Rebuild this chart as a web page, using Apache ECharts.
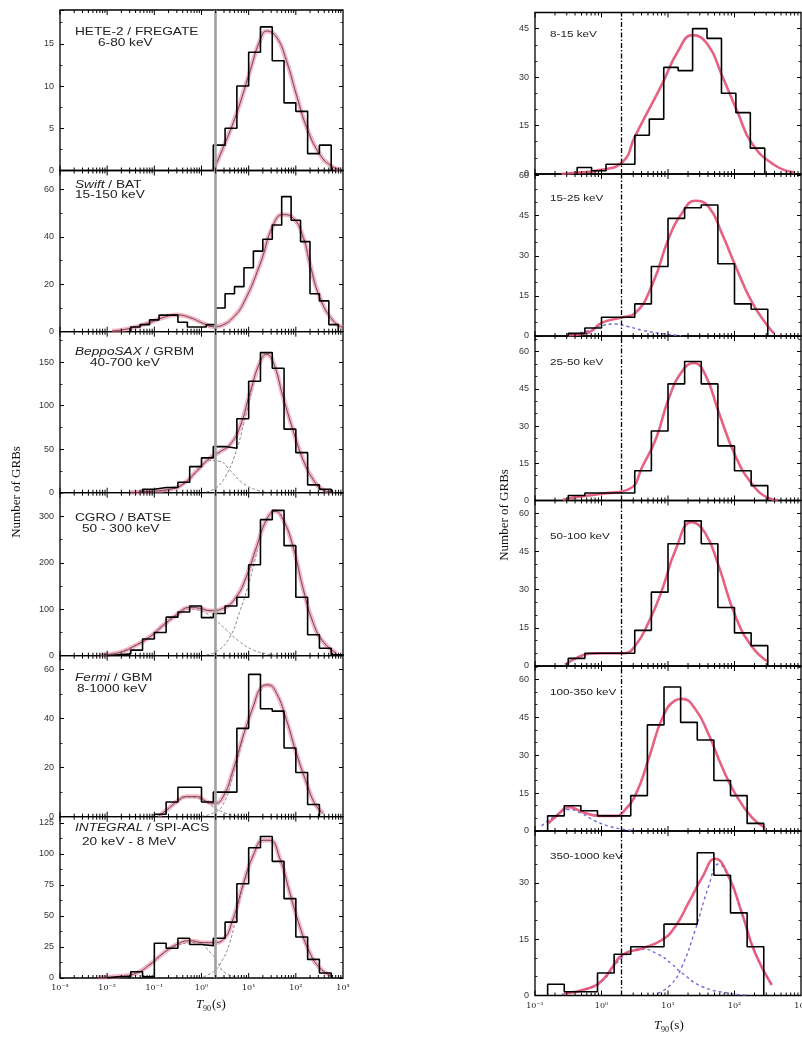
<!DOCTYPE html>
<html>
<head>
<meta charset="utf-8">
<script src="https://cdn.jsdelivr.net/npm/echarts@6/dist/echarts.min.js"></script>
<style>
  html, body { margin: 0; padding: 0; background: #fff; }
  #chart { width: 802px; height: 1040px; }
</style>
</head>
<body>
<div id="chart"></div>
<script>
// ---------- T90 histograms: first bin edge (log10 s), bin width (dex), counts ----------
const heteStart = 0.25, heteWidth = 0.25;
const heteCounts = [3, 5, 10, 14, 17, 13, 8, 7, 2, 3];
const swiftStart = -1.5, swiftWidth = 0.2;
const swiftCounts = [2, 3, 5, 7, 7, 4, 2, 2, 3, 10, 16, 19, 27, 34, 39, 45, 57, 47, 38, 16, 13, 3];
const saxStart = -1.25, saxWidth = 0.25;
const saxCounts = [4, 6, 6, 12, 30, 40, 53, 51, 85, 128, 161, 143, 73, 46, 9, 4];
const batseStart = -2, batseWidth = 0.25;
const batseCounts = [2, 4, 12, 36, 50, 83, 94, 107, 82, 91, 107, 126, 196, 293, 313, 237, 126, 45, 16, 2];
const gbmStart = -1, gbmWidth = 0.25;
const gbmCounts = [1, 6, 12, 12, 6, 10, 10, 36, 58, 44, 43, 28, 18, 5];
const acsStart = -2, acsWidth = 0.25;
const acsCounts = [1, 1, 5, 1, 28, 24, 32, 27, 26, 32, 45, 76, 105, 114, 94, 64, 33, 15, 4];

// GBM energy channels
const band1Start = -0.366, band1Width = 0.217;
const band1Counts = [2, 1, 3, 3, 12, 17, 33, 32, 45, 42, 25, 19, 8];
const band2Start = -0.5, band2Width = 0.25;
const band2Counts = [1, 3, 7, 7, 12, 26, 44, 48, 49, 27, 12, 10];
const band3Start = -0.5, band3Width = 0.25;
const band3Counts = [2, 3, 3, 3, 12, 28, 47, 56, 47, 22, 12, 6];
const band4Start = -0.5, band4Width = 0.25;
const band4Counts = [3, 5, 5, 5, 14, 29, 48, 57, 48, 23, 13, 8];
const band5Start = -0.81, band5Width = 0.25;
const band5Counts = [6, 10, 8, 6, 6, 14, 42, 57, 43, 36, 20, 14, 3];
const band6Start = -0.81, band6Width = 0.25;
const band6Counts = [3, 1, 1, 6, 11, 13, 13, 19, 19, 38, 32, 22, 13];

// ---------- fitted lognormal models, sampled as [log10 T90, N] ----------
const heteFit = [[0.25, 0], [0.46, 2.7], [0.74, 6.7], [1.03, 11.8], [1.24, 15.4], [1.38, 16.5], [1.59, 15.8], [1.8, 13], [2.01, 9], [2.23, 5.1], [2.51, 1.9], [2.76, 0.5], [2.95, 0.1]];
const swiftFit = [[-1.9, 0.3], [-1.59, 1.1], [-1.09, 3.9], [-0.81, 6], [-0.53, 7.1], [-0.25, 6], [0.04, 3.5], [0.25, 2.1], [0.46, 2.9], [0.67, 6], [0.88, 11.6], [1.24, 28.4], [1.52, 45], [1.73, 49.4], [1.94, 48], [2.16, 39.6], [2.3, 28.4], [2.51, 14.4], [2.79, 4.6], [3, 1.8]];
const saxFit = [[-1.5, 0.3], [-1.23, 1], [-0.67, 4], [-0.39, 10], [-0.1, 25], [0.18, 40], [0.39, 47], [0.6, 55], [0.81, 75], [1.03, 115], [1.24, 150], [1.38, 159], [1.52, 150], [1.73, 110], [1.94, 72], [2.16, 37], [2.37, 15], [2.58, 3], [2.8, 0.5]];
const saxShort = [[-0.9, 1], [-0.67, 3], [-0.32, 12], [-0.03, 28], [0.18, 37], [0.39, 36], [0.6, 26], [0.88, 11], [1.17, 3], [1.4, 0.5]];
const saxLong = [[0.1, 1], [0.3, 5], [0.5, 18], [0.7, 42], [0.9, 80], [1.1, 125]];
const batseFit = [[-2.15, 1.4], [-1.73, 7], [-1.38, 23], [-1.09, 41], [-0.81, 66], [-0.53, 88], [-0.25, 104], [-0.03, 102], [0.18, 97], [0.46, 102], [0.74, 127], [0.95, 170], [1.17, 235], [1.38, 293], [1.56, 311], [1.73, 293], [1.94, 235], [2.16, 142], [2.37, 70], [2.58, 30], [2.86, 5]];
const batseShort = [[-1.73, 7], [-1.09, 41], [-0.53, 86], [-0.25, 100], [-0.03, 97], [0.25, 80], [0.53, 55], [0.81, 30], [1.1, 12], [1.38, 4], [1.6, 0.5]];
const batseLong = [[0.1, 2], [0.32, 9], [0.6, 40], [0.81, 95], [1.03, 165], [1.2, 235]];
const gbmFit = [[-0.92, 0], [-0.74, 2.7], [-0.53, 6.1], [-0.32, 8.2], [-0.1, 8.2], [0.11, 6.1], [0.28, 5.4], [0.46, 8.2], [0.67, 19], [0.88, 32.7], [1.1, 45], [1.27, 52.8], [1.41, 53.7], [1.59, 50.3], [1.8, 39.5], [2.01, 25.9], [2.23, 13.6], [2.4, 5.4], [2.58, 1.4]];
const gbmShort = [[-0.9, 0.5], [-0.6, 4.5], [-0.3, 8], [0, 7], [0.25, 4], [0.5, 1.5], [0.75, 0.3]];
const gbmLong = [[0, 0.3], [0.25, 1.5], [0.46, 5], [0.67, 17], [0.88, 32]];
const acsFit = [[-2.19, 0.5], [-1.73, 1.4], [-1.38, 4], [-1.09, 11], [-0.81, 20], [-0.53, 27], [-0.25, 30], [0.04, 28.5], [0.25, 28.5], [0.46, 31], [0.67, 47.6], [0.88, 75], [1.1, 99], [1.31, 111], [1.45, 111], [1.66, 96.5], [1.87, 69], [2.08, 42], [2.3, 20], [2.51, 8], [2.76, 1.4]];
const acsShort = [[-1.09, 10], [-0.53, 26], [-0.1, 28.5], [0.2, 20], [0.35, 12], [0.46, 5.4], [0.67, 1.4], [0.9, 0.2]];
const acsLong = [[0.04, 1], [0.25, 5], [0.39, 11], [0.6, 28.5], [0.8, 62], [1.0, 90]];

const band1Fit = [[-0.6, 0], [-0.43, 0.3], [-0.03, 1.2], [0.32, 3.8], [0.5, 11.5], [0.915, 28], [1.15, 38], [1.37, 43], [1.6, 40], [1.81, 30.6], [2.05, 19], [2.26, 9.5], [2.6, 2.8], [2.9, 0.5]];
const band2Fit = [[-0.5, 0.3], [-0.18, 1.5], [0, 4.9], [0.32, 7], [0.5, 8.4], [0.77, 19.6], [1.01, 36.5], [1.21, 45.9], [1.41, 50.6], [1.61, 48.4], [1.81, 38.4], [2.01, 26.5], [2.26, 12.75], [2.51, 3.4], [2.6, 0.9]];
const band2Short = [[-0.5, 0.3], [-0.2, 2], [0, 3.8], [0.2, 4.5], [0.4, 3.5], [0.62, 2.1], [0.91, 0.9], [1.2, 0.1]];
const band3Fit = [[-0.58, 0.3], [-0.38, 1.35], [0, 2.7], [0.42, 4.7], [0.62, 14], [0.82, 25], [1.01, 41], [1.21, 52], [1.39, 55.4], [1.56, 50.7], [1.76, 35.8], [2.01, 18.2], [2.26, 6.8], [2.51, 1], [2.65, 0.2]];
const band4Fit = [[-0.55, 0.5], [-0.35, 3.5], [-0.18, 4.8], [0, 5], [0.32, 5], [0.5, 7.7], [0.72, 17.8], [0.92, 30.6], [1.11, 45.4], [1.36, 56.5], [1.56, 52.2], [1.76, 39.4], [2.01, 19.8], [2.26, 7.7], [2.51, 1.6]];
const band5Fit = [[-0.8, 3], [-0.7, 5.4], [-0.48, 9.4], [-0.28, 7.4], [-0.03, 6], [0.22, 6], [0.32, 7.4], [0.52, 14.8], [0.72, 29.5], [0.92, 45], [1.11, 51.7], [1.21, 52.3], [1.41, 48.3], [1.61, 38.3], [1.81, 25.5], [2.01, 14.8], [2.26, 5.4], [2.46, 1.3]];
const band5Short = [[-0.9, 2], [-0.7, 6], [-0.5, 8.5], [-0.3, 7], [-0.1, 4], [0.1, 2], [0.3, 0.8], [0.5, 0.2]];
const band6Fit = [[-0.57, 0.4], [-0.18, 2], [0.02, 4.2], [0.17, 7.7], [0.32, 10.9], [0.62, 12.6], [0.92, 14.9], [1.11, 18.4], [1.31, 24.7], [1.51, 31.3], [1.71, 36.4], [1.91, 31.8], [2.11, 22], [2.31, 11.3], [2.56, 2.8]];
const band6Short = [[-0.6, 0.3], [-0.18, 2], [0.02, 4], [0.32, 10.2], [0.6, 12.4], [0.85, 11], [1.05, 8.5], [1.21, 6], [1.51, 2.4], [1.91, 0.6], [2.2, 0.1]];
const band6Long = [[0.85, 0.6], [1.05, 3], [1.21, 7.7], [1.41, 17.5], [1.61, 29], [1.76, 35], [1.91, 31.5], [2.11, 22], [2.31, 11.3], [2.56, 2.8]];

// ---------- panel annotations and axis ranges ----------
const leftMission = ['HETE-2', 'Swift', 'BeppoSAX', 'CGRO', 'Fermi', 'INTEGRAL'];
const leftInstrument = ['FREGATE', 'BAT', 'GRBM', 'BATSE', 'GBM', 'SPI-ACS'];
const leftItalic = [false, true, true, false, true, true];
const leftBand = ['6-80 keV', '15-150 keV', '40-700 keV', '50 - 300 keV', '8-1000 keV', '20 keV - 8 MeV'];
const rightBand = ['8-15 keV', '15-25 keV', '25-50 keV', '50-100 keV', '100-350 keV', '350-1000 keV'];
const leftYMax = [19, 68, 185, 351, 65.6, 130];
const leftYStep = [5, 20, 50, 100, 20, 25];
const rightYMax = [50, 60.6, 66.3, 65, 65.3, 43.8];
const rightYStep = [15, 15, 15, 15, 15, 15];
const leftXRange = [-3, 3];
const rightXRange = [-1, 3];
const DIVIDE = Math.log10(2);   // 2 s short/long boundary

// ---------- layout ----------
const leftEdges = [10, 170.5, 331.7, 492.7, 655.7, 816.7, 978];
const rightEdges = [12.5, 174, 336, 500.5, 666, 831, 995.5];
const leftBox = { left: 60, width: 283 };
const rightBox = { left: 535, width: 266 };
const leftTextDy = [[22, 33], [15, 25], [20, 31], [25, 36], [22, 33], [11, 25]];
const leftTextX2 = [98, 75, 90, 82, 77, 82];
const rightTextDy = [22, 25, 27, 36, 27, 26];

const leftHist = [
  [heteStart, heteWidth, heteCounts], [swiftStart, swiftWidth, swiftCounts], [saxStart, saxWidth, saxCounts],
  [batseStart, batseWidth, batseCounts], [gbmStart, gbmWidth, gbmCounts], [acsStart, acsWidth, acsCounts]
];
const leftFits = [heteFit, swiftFit, saxFit, batseFit, gbmFit, acsFit];
const leftComps = [[], [], [saxShort, saxLong], [batseShort, batseLong], [gbmShort, gbmLong], [acsShort, acsLong]];
const rightHist = [
  [band1Start, band1Width, band1Counts], [band2Start, band2Width, band2Counts], [band3Start, band3Width, band3Counts],
  [band4Start, band4Width, band4Counts], [band5Start, band5Width, band5Counts], [band6Start, band6Width, band6Counts]
];
const rightFits = [band1Fit, band2Fit, band3Fit, band4Fit, band5Fit, band6Fit];
const rightComps = [[], [band2Short], [], [], [band5Short], [band6Short, band6Long]];

const SUP = { '-': '\u207B', '0': '\u2070', '1': '\u00B9', '2': '\u00B2', '3': '\u00B3', '4': '\u2074' };
function powerLabel(v) {
  return '10' + String(Math.round(v)).split('').map(c => SUP[c]).join('');
}

function stepData(start, width, counts) {
  const d = [[start, 0]];
  counts.forEach((c, i) => d.push([start + i * width, c]));
  const end = start + counts.length * width;
  d.push([end, counts[counts.length - 1]]);
  d.push([end, 0]);
  return d;
}

const grids = [], xAxes = [], yAxes = [], series = [], graphics = [];

function addPanel(gi, side, p) {
  const edges = side === 'L' ? leftEdges : rightEdges;
  const box = side === 'L' ? leftBox : rightBox;
  const xr = side === 'L' ? leftXRange : rightXRange;
  const ymax = side === 'L' ? leftYMax[p] : rightYMax[p];
  const ystep = side === 'L' ? leftYStep[p] : rightYStep[p];
  const bottomPanel = p === 5;

  grids.push({
    left: box.left, width: box.width, top: edges[p], height: edges[p + 1] - edges[p],
    containLabel: false, outerBoundsMode: 'none',
    show: true, borderColor: '#000', borderWidth: 1.3, backgroundColor: 'transparent'
  });
  xAxes.push({
    gridIndex: gi, type: 'value', min: xr[0], max: xr[1], interval: 1,
    axisLine: { show: false, onZero: false }, axisTick: { show: false }, splitLine: { show: false },
    axisLabel: {
      show: bottomPanel, formatter: powerLabel, margin: 6,
      fontFamily: 'DejaVu Serif', fontSize: 8, color: '#222',
      showMinLabel: true, showMaxLabel: true
    }
  });
  const yLabel = v => (Math.abs(v / ystep - Math.round(v / ystep)) < 1e-6 ? String(v) : '');
  const yCommon = {
    gridIndex: gi, type: 'value', min: 0, max: ymax, interval: ystep,
    axisLine: { show: false, onZero: false }, splitLine: { show: false },
    axisTick: { show: true, inside: true, length: 4, lineStyle: { color: '#000', width: 1 } },
    minorTick: { show: true, splitNumber: side === 'L' ? 2 : 3, length: 2.5, lineStyle: { color: '#000', width: 0.8 } }
  };
  yAxes.push(Object.assign({}, yCommon, {
    position: 'left',
    axisLabel: { formatter: yLabel, fontFamily: 'Liberation Sans', fontSize: 9, color: '#333', margin: 6, showMaxLabel: false }
  }));
  yAxes.push(Object.assign({}, yCommon, { position: 'right', axisLabel: { show: false } }));
  const yi = gi * 2;

  // log-decade tick marks on the top and bottom frame edges
  series.push({
    type: 'custom', xAxisIndex: gi, yAxisIndex: yi, silent: true, clip: false, z: 5,
    data: [[xr[0], 0]],
    renderItem: (params, api) => {
      const ch = [];
      for (let d = xr[0]; d < xr[1]; d++) {
        for (let k = 1; k <= 9; k++) {
          const v = d + Math.log10(k);
          const b = api.coord([v, 0]);
          const t = api.coord([v, ymax]);
          const len = k === 1 ? 5 : 3;
          ch.push({ type: 'line', shape: { x1: b[0], y1: b[1], x2: b[0], y2: b[1] - len }, style: { stroke: '#000', lineWidth: 1 } });
          ch.push({ type: 'line', shape: { x1: t[0], y1: t[1], x2: t[0], y2: t[1] + len }, style: { stroke: '#000', lineWidth: 1 } });
        }
      }
      return { type: 'group', children: ch };
    }
  });

  const hist = side === 'L' ? leftHist[p] : rightHist[p];
  const fit = side === 'L' ? leftFits[p] : rightFits[p];
  const comps = side === 'L' ? leftComps[p] : rightComps[p];

  // model components (dashed)
  comps.forEach(c => series.push({
    type: 'line', xAxisIndex: gi, yAxisIndex: yi, data: c, smooth: true, symbol: 'none', silent: true, z: 2,
    lineStyle: side === 'L'
      ? { color: '#8a8a8a', width: 1, type: [3, 2] }
      : { color: '#6b6bd6', width: 1.4, type: [3, 3] }
  }));

  // total fitted model
  if (side === 'L') {
    series.push({
      type: 'line', xAxisIndex: gi, yAxisIndex: yi, data: fit, smooth: true, symbol: 'none', silent: true, z: 2,
      lineStyle: { color: 'rgba(236,120,150,0.55)', width: 4.5 }
    });
    series.push({
      type: 'line', xAxisIndex: gi, yAxisIndex: yi, data: fit, smooth: true, symbol: 'none', silent: true, z: 3,
      lineStyle: { color: '#5b3a45', width: 0.9 }
    });
  } else {
    series.push({
      type: 'line', xAxisIndex: gi, yAxisIndex: yi, data: fit, smooth: true, symbol: 'none', silent: true, z: 2,
      lineStyle: { color: 'rgba(228,80,118,0.9)', width: 2.6 }
    });
  }

  // histogram
  series.push({
    type: 'line', xAxisIndex: gi, yAxisIndex: yi, data: stepData(hist[0], hist[1], hist[2]),
    step: 'end', symbol: 'none', silent: true, z: 4,
    lineStyle: { color: '#000', width: 1.6 },
    markLine: {
      silent: true, symbol: ['none', 'none'], label: { show: false },
      lineStyle: side === 'L'
        ? { color: '#a0a0a0', width: 2.6, type: 'solid' }
        : { color: '#000', width: 1.3, type: [5, 2, 1.5, 2] },
      data: [{ xAxis: DIVIDE }]
    }
  });

  // panel annotation
  if (side === 'L') {
    const rich = { i: { fontStyle: 'italic', fontFamily: 'Liberation Sans', fontSize: 10.5, fill: '#222' } };
    const first = leftItalic[p] ? '{i|' + leftMission[p] + '} / ' + leftInstrument[p] : leftMission[p] + ' / ' + leftInstrument[p];
    graphics.push({
      type: 'text', x: 75, y: edges[p] + leftTextDy[p][0], z: 10, scaleX: 1.3,
      style: { text: first, rich: rich, font: '10.5px "Liberation Sans"', fill: '#222', verticalAlign: 'middle' }
    });
    graphics.push({
      type: 'text', x: leftTextX2[p], y: edges[p] + leftTextDy[p][1], z: 10, scaleX: 1.3,
      style: { text: leftBand[p], font: '10.5px "Liberation Sans"', fill: '#222', verticalAlign: 'middle' }
    });
  } else {
    graphics.push({
      type: 'text', x: 550, y: edges[p] + rightTextDy[p], z: 10, scaleX: 1.3,
      style: { text: rightBand[p], font: '9px "Liberation Sans"', fill: '#222', verticalAlign: 'middle' }
    });
  }
}

for (let p = 0; p < 6; p++) addPanel(p, 'L', p);
for (let p = 0; p < 6; p++) addPanel(6 + p, 'R', p);

// axis titles
function t90Title(x, y) {
  graphics.push({ type: 'text', x: x, y: y, style: { text: 'T', font: 'italic 13px "Liberation Serif"', fill: '#111', verticalAlign: 'middle' } });
  graphics.push({ type: 'text', x: x + 7, y: y + 4, style: { text: '90', font: '8px "Liberation Serif"', fill: '#111', verticalAlign: 'middle' } });
  graphics.push({ type: 'text', x: x + 16, y: y, style: { text: '(s)', font: '13px "Liberation Serif"', fill: '#111', verticalAlign: 'middle' } });
}
t90Title(196, 1005);
t90Title(654, 1026);
[[17, 492], [505, 515]].forEach(pos => graphics.push({
  type: 'text', x: pos[0], y: pos[1], rotation: Math.PI / 2,
  style: { text: 'Number of GRBs', font: '13px "Liberation Serif"', fill: '#111', align: 'center', verticalAlign: 'middle' }
}));

const chart = echarts.init(document.getElementById('chart'), null, { renderer: 'canvas' });
chart.setOption({
  animation: false,
  backgroundColor: '#fff',
  grid: grids,
  xAxis: xAxes,
  yAxis: yAxes,
  series: series,
  graphic: graphics
});
</script>
</body>
</html>
